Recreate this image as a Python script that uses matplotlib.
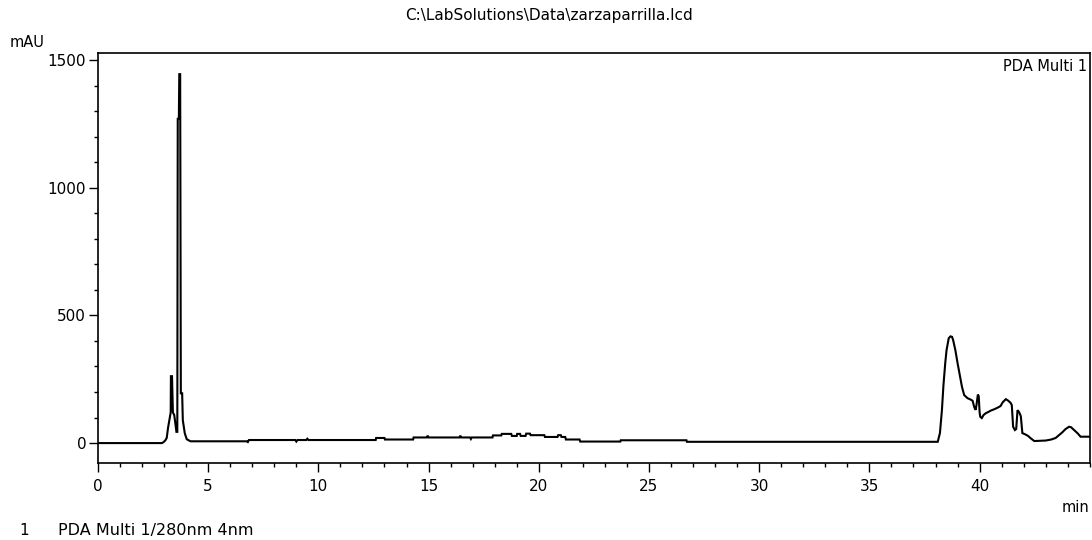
import matplotlib
matplotlib.use("Agg")
import matplotlib.pyplot as plt
from matplotlib.ticker import MultipleLocator, FixedLocator

# Chromatogram trace: retention time (min) and absorbance (mAU)
time_min = [
    0.0, 2.90, 2.98, 3.05, 3.12, 3.18, 3.25, 3.30, 3.31, 3.36, 3.40, 3.46, 3.50,
    3.56, 3.60, 3.62, 3.67, 3.69, 3.73, 3.76, 3.82, 3.85, 3.90, 3.94, 4.03, 4.20,
    6.75, 6.80, 6.85, 8.95, 9.00, 9.05, 9.45, 9.50, 9.55, 12.60, 12.62, 13.00,
    13.02, 14.30, 14.32, 14.92, 14.96, 15.00, 16.40, 16.44, 16.48, 16.88, 16.92,
    16.96, 17.90, 17.92, 18.30, 18.32, 18.75, 18.78, 19.00, 19.02, 19.15, 19.18,
    19.40, 19.43, 19.60, 19.63, 20.25, 20.28, 20.85, 20.88, 21.00, 21.03, 21.20,
    21.23, 21.85, 21.88, 23.70, 23.72, 26.70, 26.72, 38.10, 38.20, 38.29, 38.36,
    38.44, 38.50, 38.60, 38.68, 38.75, 38.80, 38.90, 39.00, 39.10, 39.20, 39.30,
    39.45, 39.60, 39.68, 39.76, 39.82, 39.86, 39.92, 39.96, 40.00, 40.03, 40.10,
    40.18, 40.28, 40.40, 40.50, 40.65, 40.80, 40.95, 41.05, 41.19, 41.30, 41.40,
    41.46, 41.52, 41.60, 41.66, 41.72, 41.80, 41.87, 41.94, 42.05, 42.20, 42.30,
    42.48, 43.00, 43.25, 43.45, 43.60, 43.75, 43.90, 44.06, 44.15, 44.30, 44.45,
    44.58, 45.00,
]
absorbance_mau = [
    0, 0, 4, 10, 20, 60, 95, 120, 262, 262, 120, 110, 85,
    44, 44, 1270, 1270, 1445, 1445, 195, 195, 90, 60, 38, 15, 7,
    7, 4, 12, 12, 6, 12, 12, 17, 12, 12, 20, 20,
    14, 14, 22, 22, 29, 22, 22, 29, 22, 22, 16,
    22, 22, 30, 30, 36, 36, 28, 28, 36, 36, 28,
    28, 37, 37, 31, 31, 24, 24, 31, 31, 24, 24,
    14, 14, 6, 6, 11, 11, 5, 5, 39, 129, 227,
    313, 364, 411, 418, 416, 403, 364, 313, 266, 220, 188,
    176, 170, 166, 140, 130, 150, 190, 184, 120, 103, 98,
    110, 117, 122, 127, 132, 138, 145, 160, 172, 166, 158,
    149, 64, 51, 55, 129, 120, 105, 39, 35, 28, 20,
    8, 10, 14, 20, 31, 42, 55, 64, 62, 50, 38,
    25, 25,
]

x_major_ticks = [0, 5, 10, 15, 20, 25, 30, 35, 40]
x_tick_labels = ["0", "5", "10", "15", "20", "25", "30", "35", "40"]
y_major_ticks = [0, 500, 1000, 1500]
y_tick_labels = ["0", "500", "1000", "1500"]

plt.rcParams["font.family"] = ["DejaVu Sans"]

fig = plt.figure(figsize=(10.92, 5.40), dpi=100)
ax = fig.add_axes([0.0897, 0.1426, 0.9083, 0.7593])

ax.plot(time_min, absorbance_mau, color="black", linewidth=1.5,
        solid_joinstyle="miter")

ax.set_xlim(0, 45)
ax.set_ylim(-78, 1528)

ax.xaxis.set_major_locator(FixedLocator(x_major_ticks))
ax.set_xticklabels(x_tick_labels)
ax.xaxis.set_minor_locator(MultipleLocator(1))
ax.yaxis.set_major_locator(FixedLocator(y_major_ticks))
ax.set_yticklabels(y_tick_labels)
ax.yaxis.set_minor_locator(MultipleLocator(100))

ax.tick_params(axis="both", which="major", direction="out", length=6.5,
               width=1.0, labelsize=11, colors="black", pad=2)
ax.tick_params(axis="both", which="minor", direction="out", length=3,
               width=1.0)
ax.tick_params(axis="x", which="major", pad=5)

for side in ["left", "bottom", "right", "top"]:
    ax.spines[side].set_linewidth(1.2)
    ax.spines[side].set_color("black")

fig.text(0.503, 0.972, r"C:\LabSolutions\Data\zarzaparrilla.lcd",
         ha="center", va="center", fontsize=11)
fig.text(0.009, 0.921, "mAU", ha="left", va="center", fontsize=10.5)
ax.text(0.997, 0.985, "PDA Multi 1", transform=ax.transAxes,
        ha="right", va="top", fontsize=10.5)
fig.text(0.998, 0.060, "min", ha="right", va="center", fontsize=10.5)
fig.text(0.018, 0.018, "1", ha="left", va="center", fontsize=11)
fig.text(0.053, 0.018, "PDA Multi 1/280nm 4nm", ha="left", va="center",
         fontsize=11.5)

fig.savefig("out.png", dpi=100, facecolor="white")
